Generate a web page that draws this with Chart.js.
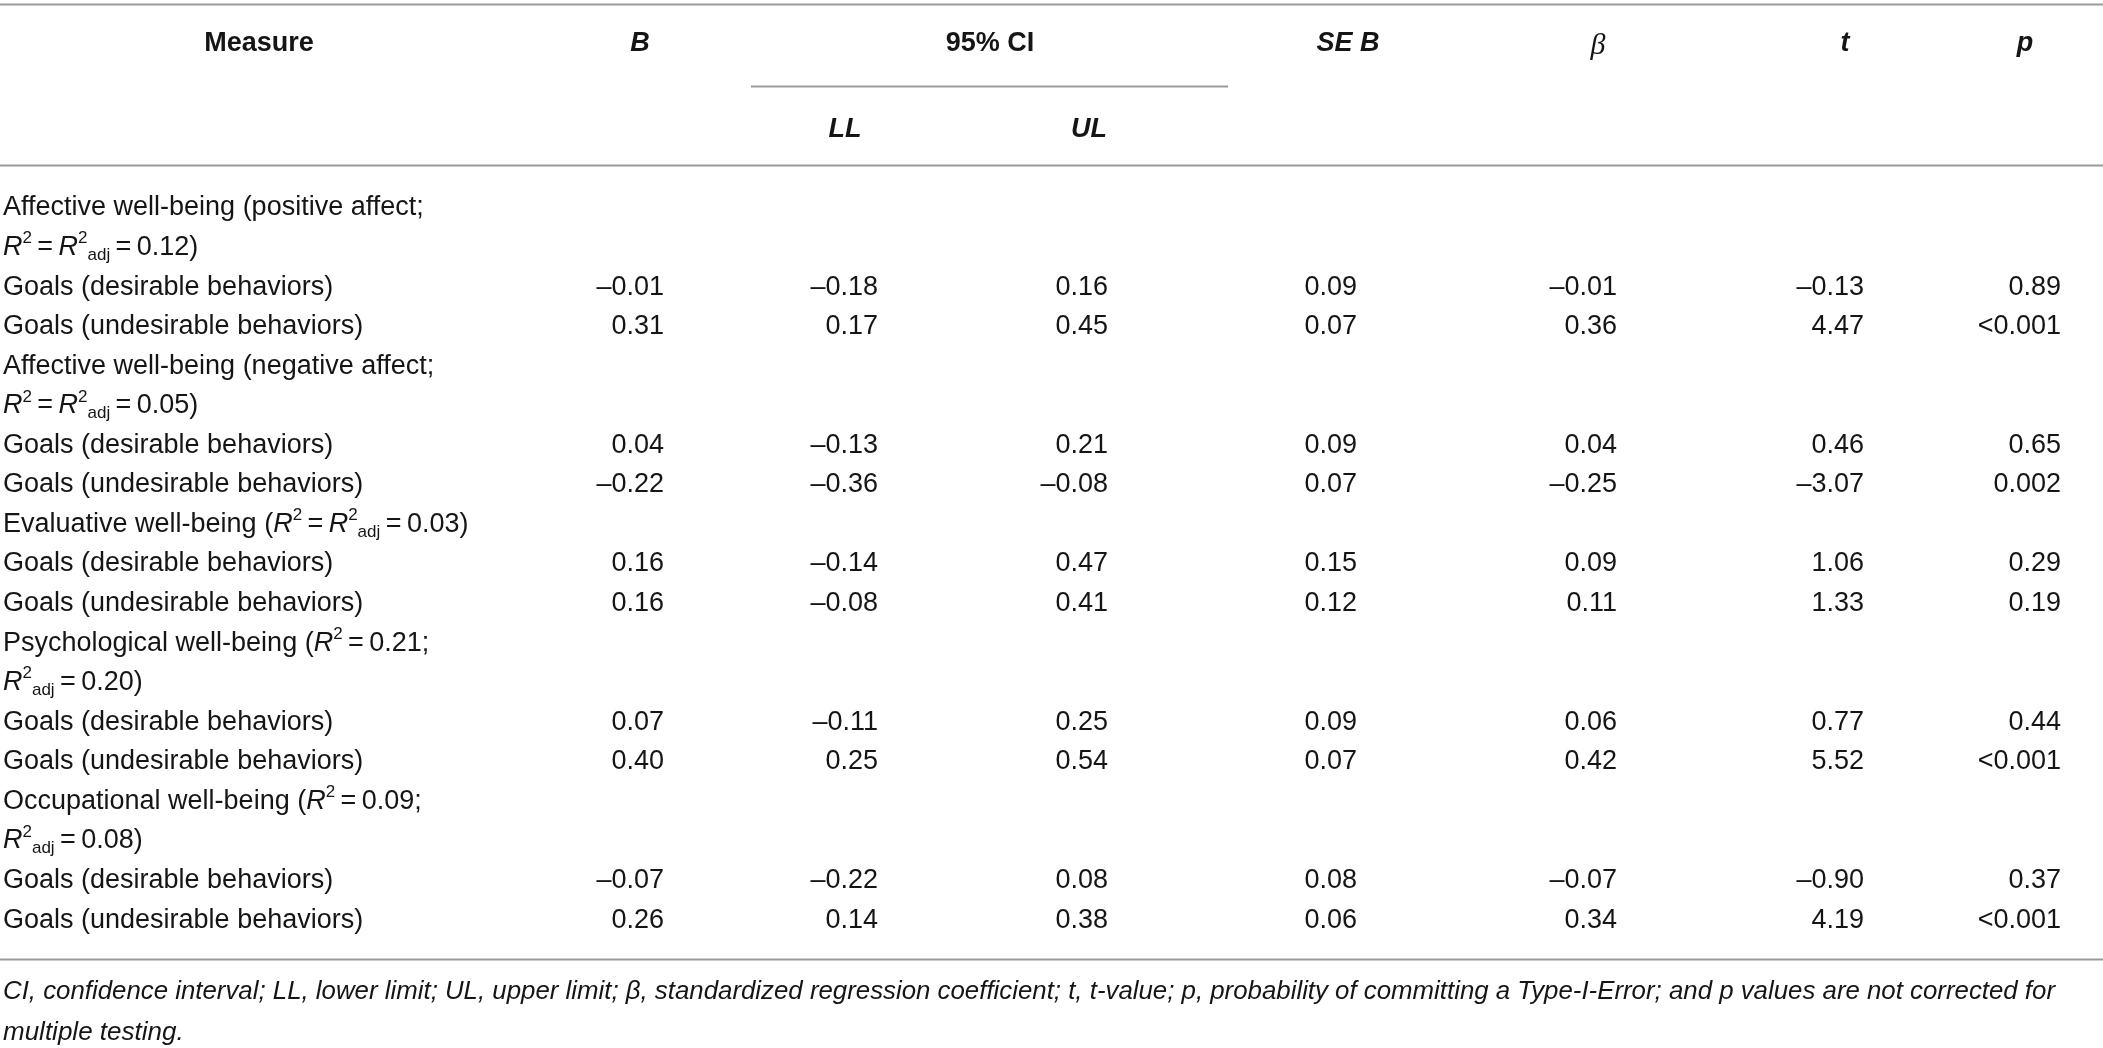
<!DOCTYPE html>
<html>
<head>
<meta charset="utf-8">
<script src="https://cdn.jsdelivr.net/npm/chart.js@4/dist/chart.umd.min.js"></script>
<style>
  html, body { margin: 0; padding: 0; background: #fff; }
  #wrap { width: 2103px; height: 1048px; position: relative; }
</style>
</head>
<body>
<div id="wrap"><canvas id="myChart"></canvas></div>
<script>
// group headings, markup: *italic*, ^superscript^, _subscript_
const groupTitles = [
    ["Affective well-being (positive affect;", "*R*^2^\u2009=\u2009*R*^2^_adj_\u2009=\u20090.12)"],
    ["Affective well-being (negative affect;", "*R*^2^\u2009=\u2009*R*^2^_adj_\u2009=\u20090.05)"],
    ["Evaluative well-being (*R*^2^\u2009=\u2009*R*^2^_adj_\u2009=\u20090.03)"],
    ["Psychological well-being (*R*^2^\u2009=\u20090.21;", "*R*^2^_adj_\u2009=\u20090.20)"],
    ["Occupational well-being (*R*^2^\u2009=\u20090.09;", "*R*^2^_adj_\u2009=\u20090.08)"]
];
const predictors = ["Goals (desirable behaviors)", "Goals (undesirable behaviors)"];

const bValues    = [-0.01, 0.31, 0.04, -0.22, 0.16, 0.16, 0.07, 0.40, -0.07, 0.26];
const llValues   = [-0.18, 0.17, -0.13, -0.36, -0.14, -0.08, -0.11, 0.25, -0.22, 0.14];
const ulValues   = [0.16, 0.45, 0.21, -0.08, 0.47, 0.41, 0.25, 0.54, 0.08, 0.38];
const seValues   = [0.09, 0.07, 0.09, 0.07, 0.15, 0.12, 0.09, 0.07, 0.08, 0.06];
const betaValues = [-0.01, 0.36, 0.04, -0.25, 0.09, 0.11, 0.06, 0.42, -0.07, 0.34];
const tValues    = [-0.13, 4.47, 0.46, -3.07, 1.06, 1.33, 0.77, 5.52, -0.90, 4.19];
const pValues    = ["0.89", "<0.001", "0.65", "0.002", "0.29", "0.19", "0.44", "<0.001", "0.37", "<0.001"];

const footnote = [
    "CI, confidence interval; LL, lower limit; UL, upper limit; \u03b2, standardized regression coefficient; t, t-value; p, probability of committing a Type-I-Error; and p values are not corrected for",
    "multiple testing."
];

// layout (x in px units of the x scale, y in row units of the y scale)
const FONT = '"Liberation Sans", Arial, sans-serif';
const SIZE = 27;
const colRight = [664, 878, 1108, 1357, 1617, 1864, 2061];
const labelX = 3;
const rowStep = 39.56, firstRowPx = 208;

const fmt = v => (v < 0 ? "\u2013" : "") + Math.abs(v).toFixed(2);

// build row indices from group structure
const titleRows = [], titleTexts = [], valueRows = [], labelTexts = [];
let r = 0;
groupTitles.forEach(lines => {
    lines.forEach(l => { titleRows.push(r); titleTexts.push(l); r++; });
    predictors.forEach(p => { valueRows.push(r); labelTexts.push(p); r++; });
});

function column(x, rows, texts, align, rich) {
    return {
        data: rows.map(row => ({ x: x, y: row })),
        texts: texts, align: align, rich: rich,
        pointRadius: 0, pointHoverRadius: 0, showLine: false
    };
}

const numericCols = [bValues, llValues, ulValues, seValues, betaValues, tValues];
const datasets = [
    column(labelX, titleRows, titleTexts, "left", true),
    column(labelX, valueRows, labelTexts, "left", false)
];
numericCols.forEach((vals, i) => datasets.push(column(colRight[i], valueRows, vals.map(fmt), "right", false)));
datasets.push(column(colRight[6], valueRows, pValues, "right", false));

function drawRich(ctx, str, x, y, size) {
    const parts = str.split(/(\*[^*]+\*|\^[^^]+\^|_[^_]+_)/).filter(s => s);
    let cx = x;
    parts.forEach(p => {
        let font = `${size}px ${FONT}`, dy = 0, txt = p;
        if (p[0] === "*") { font = `italic ${size}px ${FONT}`; txt = p.slice(1, -1); }
        else if (p[0] === "^") { font = `${Math.round(size * 0.62)}px ${FONT}`; txt = p.slice(1, -1); dy = -size * 0.33; }
        else if (p[0] === "_") { font = `${Math.round(size * 0.62)}px ${FONT}`; txt = p.slice(1, -1); dy = size * 0.28; }
        ctx.font = font;
        ctx.textAlign = "left";
        ctx.fillText(txt, cx, y + dy);
        cx += ctx.measureText(txt).width;
    });
}

const toRow = px => (px - firstRowPx) / rowStep;

const tablePlugin = {
    id: "tableText",
    afterDatasetsDraw(chart) {
        const ctx = chart.ctx;
        const xs = chart.scales.x, ys = chart.scales.y;
        ctx.save();
        ctx.textBaseline = "middle";
        ctx.fillStyle = "#151515";

        // rules
        ctx.strokeStyle = "#9a9a9a";
        ctx.lineWidth = 2;
        const hline = (x0, x1, row) => {
            const y = Math.round(ys.getPixelForValue(row)) + 0.5;
            ctx.beginPath();
            ctx.moveTo(xs.getPixelForValue(x0), y);
            ctx.lineTo(xs.getPixelForValue(x1), y);
            ctx.stroke();
        };
        hline(0, 2103, toRow(4));
        hline(751, 1228, toRow(86));
        hline(0, 2103, toRow(165));
        hline(0, 2103, toRow(959));

        // header
        const head = (txt, x, px, font) => {
            ctx.font = font;
            ctx.textAlign = "center";
            ctx.fillText(txt, xs.getPixelForValue(x), ys.getPixelForValue(toRow(px)));
        };
        const bold = `bold ${SIZE}px ${FONT}`, boldIt = `italic bold ${SIZE}px ${FONT}`;
        head("Measure", 259, 44, bold);
        head("B", 640, 44, boldIt);
        head("95% CI", 990, 44, bold);
        head("SE B", 1348, 44, boldIt);
        head("\u03b2", 1598, 46, `italic 30px "Liberation Serif", serif`);
        head("t", 1845, 44, boldIt);
        head("p", 2025, 44, boldIt);
        head("LL", 845, 130, boldIt);
        head("UL", 1089, 130, boldIt);

        // body cells
        chart.data.datasets.forEach((ds, i) => {
            const meta = chart.getDatasetMeta(i);
            meta.data.forEach((pt, j) => {
                if (ds.rich) {
                    drawRich(ctx, ds.texts[j], pt.x, pt.y, SIZE);
                } else {
                    ctx.font = `${SIZE}px ${FONT}`;
                    ctx.textAlign = ds.align;
                    ctx.fillText(ds.texts[j], pt.x, pt.y);
                }
            });
        });

        // footnote
        ctx.font = `italic 26px ${FONT}`;
        ctx.textAlign = "left";
        ctx.fillText(footnote[0], xs.getPixelForValue(3), ys.getPixelForValue(toRow(992)), 2052);
        ctx.fillText(footnote[1], xs.getPixelForValue(3), ys.getPixelForValue(toRow(1033)));
        ctx.restore();
    }
};

const ctx = document.getElementById("myChart").getContext("2d");
new Chart(ctx, {
    type: "scatter",
    data: { datasets: datasets },
    options: {
        responsive: true,
        maintainAspectRatio: false,
        animation: false,
        layout: { padding: 0 },
        plugins: { legend: { display: false }, tooltip: { enabled: false } },
        scales: {
            x: { type: "linear", display: false, min: 0, max: 2103 },
            y: { type: "linear", display: false, reverse: true, min: toRow(0), max: toRow(1048) }
        }
    },
    plugins: [tablePlugin]
});
</script>
</body>
</html>
